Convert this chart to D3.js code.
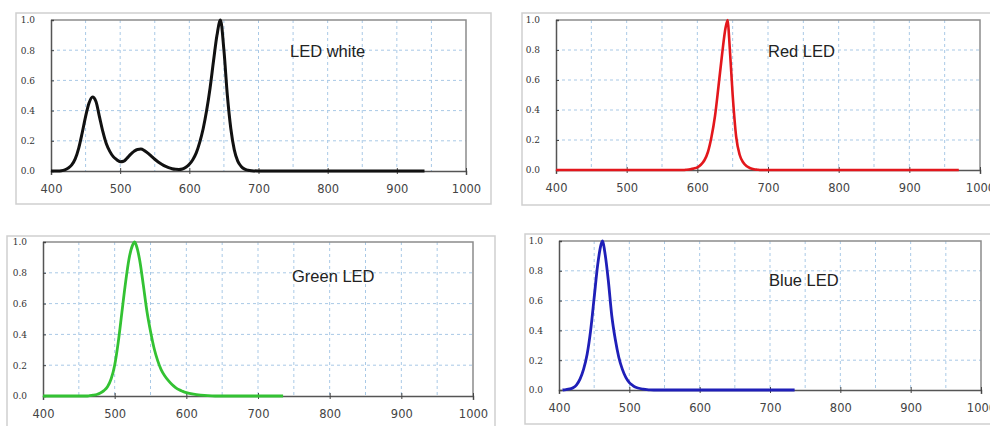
<!DOCTYPE html>
<html>
<head>
<meta charset="utf-8">
<script src="https://cdn.jsdelivr.net/npm/d3@7"></script>
<style>
  body { margin: 0; background: #fff; }
  svg { display: block; }
  .frame { fill: #fff; stroke: #cfcfcf; stroke-width: 1.5; }
  .grid line { stroke: #a9c9e6; stroke-dasharray: 3,3; stroke-width: 1; }
  .x-axis text { font-family: Verdana, "DejaVu Sans", sans-serif; font-size: 11.5px; fill: #444; }
  .y-axis text { font-family: "DejaVu Serif", serif; font-size: 9px; fill: #333; }
  .title { font-family: "Liberation Sans", Arial, sans-serif; font-size: 16.5px; fill: #222; }
</style>
</head>
<body>
<svg id="chart" width="990" height="426"></svg>
<script>
// Spectra (wavelength nm, relative intensity)
const whiteNm  = [400,405,410,415,420,425,430,435,440,445,450,455,460,465,470,475,480,485,490,495,500,505,510,515,520,525,530,535,540,545,550,555,560,565,570,575,580,585,590,595,600,605,610,615,620,625,630,635,640,645,650,655,660,665,670,675,680,685,690,700,760,820,880,940];
const whiteVal = [0,0,0,0.002,0.008,0.02,0.04,0.08,0.15,0.25,0.36,0.45,0.49,0.46,0.36,0.26,0.18,0.13,0.095,0.075,0.062,0.065,0.085,0.11,0.13,0.143,0.145,0.135,0.118,0.098,0.078,0.06,0.045,0.032,0.022,0.015,0.011,0.01,0.013,0.025,0.045,0.075,0.12,0.19,0.28,0.4,0.55,0.73,0.9,1.0,0.8,0.5,0.28,0.14,0.065,0.03,0.012,0.005,0.002,0,0,0,0,0];

const redNm  = [400,500,580,585,590,595,600,605,610,615,620,625,630,635,640,643,645,650,655,660,665,670,675,680,685,690,750,850,970];
const redVal = [0,0,0,0.002,0.005,0.01,0.018,0.035,0.065,0.12,0.22,0.36,0.56,0.77,0.95,1.0,0.88,0.5,0.22,0.1,0.05,0.025,0.012,0.005,0.002,0,0,0,0];

const greenNm  = [400,460,465,470,475,480,485,490,495,500,505,510,515,520,525,528,530,535,540,545,550,555,560,565,570,575,580,585,590,595,600,610,620,630,640,690,735];
const greenVal = [0,0,0.002,0.005,0.01,0.02,0.035,0.06,0.11,0.2,0.35,0.54,0.73,0.89,0.98,1.0,0.98,0.88,0.72,0.55,0.42,0.31,0.23,0.17,0.13,0.1,0.075,0.055,0.04,0.03,0.022,0.012,0.006,0.002,0,0,0];

const blueNm  = [405,410,415,420,425,430,435,440,445,450,455,460,462,465,470,475,480,485,490,495,500,505,510,515,520,525,530,535,600,670,735];
const blueVal = [0,0.003,0.007,0.015,0.035,0.075,0.14,0.24,0.4,0.62,0.84,0.98,1.0,0.93,0.74,0.5,0.34,0.22,0.14,0.085,0.05,0.03,0.017,0.01,0.006,0.003,0.001,0,0,0,0];

const xTicks = [400, 500, 600, 700, 800, 900, 1000];
const xGrid  = [450, 500, 550, 600, 650, 700, 750, 800, 850, 900, 950];
const yTicks = [0, 0.2, 0.4, 0.6, 0.8, 1.0];
const yGrid  = [0.2, 0.4, 0.6, 0.8];

const panels = [
  { name: "LED white", nm: whiteNm, val: whiteVal, color: "#111111", width: 3,
    box: [16, 13, 475, 191], plot: [51, 466, 20, 171], title: [290, 57] },
  { name: "Red LED", nm: redNm, val: redVal, color: "#e3171c", width: 2.6,
    box: [522, 13, 480, 192], plot: [556, 980, 20, 170], title: [768, 57] },
  { name: "Green LED", nm: greenNm, val: greenVal, color: "#33c233", width: 2.8,
    box: [7, 236, 488, 200], plot: [43, 473, 242, 396], title: [292, 282] },
  { name: "Blue LED", nm: blueNm, val: blueVal, color: "#1f1fb8", width: 2.8,
    box: [525, 234, 480, 190], plot: [559, 981, 241, 390], title: [769, 286] }
];

const svg = d3.select("#chart");

panels.forEach(p => {
  const [bx, by, bw, bh] = p.box;
  const [l, r, t, b] = p.plot;
  const g = svg.append("g");

  g.append("rect").attr("class", "frame")
    .attr("x", bx).attr("y", by).attr("width", bw).attr("height", bh);

  const x = d3.scaleLinear().domain([400, 1000]).range([l, r]);
  const y = d3.scaleLinear().domain([0, 1]).range([b, t]);

  // grid
  const grid = g.append("g").attr("class", "grid");
  grid.selectAll(".vg").data(xGrid).join("line")
    .attr("x1", d => x(d)).attr("x2", d => x(d)).attr("y1", t).attr("y2", b);
  grid.selectAll(".hg").data(yGrid).join("line")
    .attr("x1", l).attr("x2", r).attr("y1", d => y(d)).attr("y2", d => y(d));

  // plot border (top / right)
  g.append("path")
    .attr("d", `M${l},${t}H${r}V${b}`)
    .attr("fill", "none").attr("stroke", "#8c8c8c").attr("stroke-width", 1.5);

  // axes
  const xAxis = g.append("g").attr("class", "x-axis")
    .attr("transform", `translate(0,${b})`)
    .call(d3.axisBottom(x).tickValues(xTicks).tickFormat(d3.format("d")).tickSize(4).tickPadding(10));
  xAxis.select(".domain").attr("stroke", "#555").attr("stroke-width", 1.5);
  xAxis.selectAll(".tick line").attr("stroke", "#444").attr("y1", -3).attr("y2", 3);

  const yAxis = g.append("g").attr("class", "y-axis")
    .attr("transform", `translate(${l},0)`)
    .call(d3.axisLeft(y).tickValues(yTicks).tickFormat(d3.format(".1f")).tickSize(-3).tickPadding(16));
  yAxis.select(".domain").attr("stroke", "#555").attr("stroke-width", 1.5);
  yAxis.selectAll(".tick line").attr("stroke", "#444");

  // spectrum
  const line = d3.line()
    .x((d, i) => x(p.nm[i]))
    .y(d => y(d))
    .curve(d3.curveMonotoneX);

  g.append("path")
    .datum(p.val)
    .attr("fill", "none")
    .attr("stroke", p.color)
    .attr("stroke-width", p.width)
    .attr("stroke-linejoin", "round")
    .attr("d", line);

  g.append("text").attr("class", "title")
    .attr("x", p.title[0]).attr("y", p.title[1])
    .text(p.name);
});
</script>
</body>
</html>
